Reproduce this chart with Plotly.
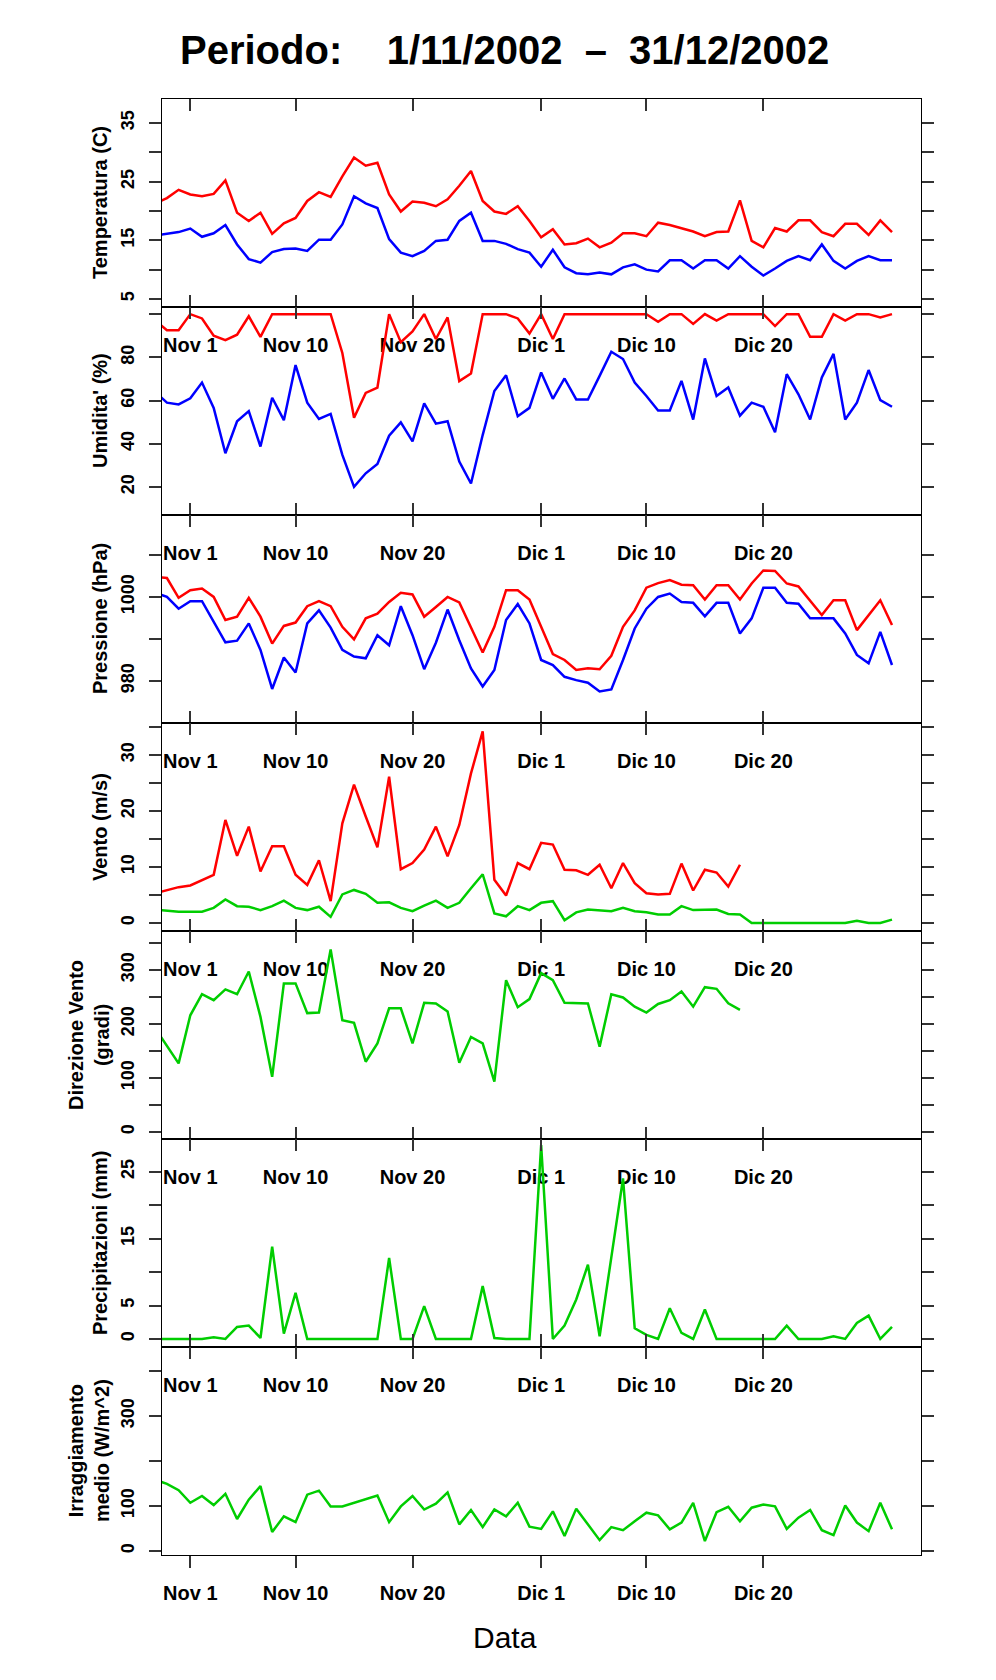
import pandas as pd
import plotly.graph_objects as go
from plotly.subplots import make_subplots

# daily values, 29 Oct 2002 .. 31 Dec 2002 (the first days fall just left of the visible range)
DATES = pd.date_range("2002-10-29", "2002-12-31", freq="D")
XRANGE = ["2002-10-29 13:55", "2003-01-02 11:31"]
XTICKS = ["2002-11-01", "2002-11-10", "2002-11-20", "2002-12-01", "2002-12-10", "2002-12-20"]
XLABELS = ["Nov 1", "Nov 10", "Nov 20", "Dic 1", "Dic 10", "Dic 20"]

TMAX = [21.3, 22.2, 23.6, 22.8, 22.5, 22.9, 25.2, 19.7, 18.3, 19.7,
        16.1, 17.9, 18.8, 21.7, 23.2, 22.4, 25.9, 29.1, 27.7, 28.2,
        22.8, 19.9, 21.6, 21.4, 20.8, 22.0, 24.3, 26.8, 21.7, 19.9,
        19.5, 20.8, 18.3, 15.5, 16.9, 14.3, 14.5, 15.3, 13.8, 14.6,
        16.2, 16.2, 15.7, 18.0, 17.6, 17.0, 16.5, 15.7, 16.4, 16.5,
        21.8, 14.9, 13.8, 17.1, 16.5, 18.4, 18.4, 16.4, 15.7, 17.8,
        17.8, 15.9, 18.4, 16.4]
TMIN = [15.8, 16.1, 16.4, 17.0, 15.6, 16.2, 17.6, 14.3, 11.8, 11.2,
        13.0, 13.5, 13.6, 13.2, 15.1, 15.1, 17.7, 22.5, 21.3, 20.5,
        15.2, 12.9, 12.3, 13.2, 14.9, 15.1, 18.3, 19.7, 14.9, 14.9,
        14.4, 13.5, 12.9, 10.5, 13.4, 10.4, 9.4, 9.2, 9.5, 9.2,
        10.4, 10.9, 10.0, 9.7, 11.6, 11.6, 10.2, 11.6, 11.6, 10.2,
        12.3, 10.5, 9.0, 10.2, 11.5, 12.3, 11.6, 14.3, 11.5, 10.2,
        11.5, 12.3, 11.6, 11.6]
HMAX = [97, 92.5, 92.5, 100, 98, 90, 88, 90.5, 99, 89.5,
        100, 100, 100, 100, 100, 100, 82, 52, 63.5, 66,
        100, 87, 92, 100, 88.5, 98.5, 69, 72.5, 100, 100,
        100, 98, 91, 100, 88.5, 100, 100, 100, 100, 100,
        100, 100, 100, 96.5, 100, 100, 95.5, 100, 97, 100,
        100, 100, 100, 94.5, 100, 100, 89.5, 89.5, 100, 97,
        100, 100, 98.5, 100]
HMIN = [64, 59, 58.2, 61, 68.3, 56.6, 35.6, 50.4, 55.1, 38.7,
        61.3, 50.9, 76.4, 59, 51.5, 53.8, 34.8, 20, 26.3, 30.6,
        43.7, 49.9, 41.1, 58.7, 49.3, 50.4, 31.7, 21.6, 44, 64.4,
        71.7, 52.7, 56.6, 73, 60.8, 70.2, 60.5, 60.5, 71.4, 82.6,
        79.2, 68.3, 62.1, 55.4, 55.4, 69.1, 51.2, 79.5, 62.1, 66,
        53, 59, 57.1, 45.3, 72.2, 62.9, 51.2, 70.7, 81.6, 51.2,
        59, 74.1, 60.2, 57.1]
PMAX = [1004.8, 1004.5, 999.8, 1001.6, 1002, 1000, 994.5, 995.3, 999.8, 995.3,
        988.9, 993.1, 993.9, 997.8, 999, 997.8, 992.9, 989.9, 994.9, 996,
        998.8, 1001, 1000.6, 995.3, 997.6, 1000, 998.7, 992.9, 986.8, 992.9,
        1001.6, 1001.6, 999.4, 992.9, 986.4, 985, 982.6, 983, 982.8, 986,
        992.9, 996.8, 1002.2, 1003.3, 1004, 1002.9, 1002.8, 999.4, 1002.8, 1002.8,
        999.4, 1003.2, 1006.3, 1006.2, 1003.2, 1002.5, 999.2, 995.7, 999.2, 999.2,
        992.1, 995.7, 999.2, 993.3]
PMIN = [1001, 1000, 997.2, 999, 999, 994.1, 989.2, 989.6, 993.7, 987.4,
        978.1, 985.6, 982, 993.7, 996.8, 992.7, 987.4, 985.8, 985.4, 990.9,
        988.5, 997.8, 990.9, 982.8, 989.1, 997, 989.7, 983, 978.7, 982.6,
        994.5, 998.3, 993.7, 985, 983.8, 981, 980.2, 979.6, 977.5, 978,
        985, 992.5, 997.2, 1000, 1000.8, 998.8, 998.6, 995.4, 998.6, 998.6,
        991.3, 994.9, 1002.2, 1002.2, 998.6, 998.4, 994.9, 994.9, 994.9, 991.3,
        986.2, 984.2, 991.7, 983.8]
WMAX = [5.3, 5.8, 6.4, 6.7, 7.7, 8.6, 18.4, 12, 17.2, 9.2,
        13.7, 13.7, 8.6, 6.8, 11.2, 3.9, 17.8, 24.7, 19, 13.5,
        26.1, 9.6, 10.7, 13.1, 17.2, 11.9, 17.5, 26.7, 34.2, 7.7,
        4.9, 10.7, 9.6, 14.3, 14, 9.5, 9.4, 8.6, 10.4, 6.2,
        10.7, 7.1, 5.3, 5.1, 5.2, 10.6, 5.8, 9.5, 9, 6.5,
        10.4] + [None] * 13
WMEAN = [2.4, 2.2, 2.0, 2.0, 2.0, 2.7, 4.2, 3.0, 2.9, 2.3,
         3.0, 4.0, 2.7, 2.3, 2.9, 1.1, 5.1, 5.9, 5.2, 3.6,
         3.7, 2.7, 2.1, 3.1, 4.0, 2.7, 3.6, 6.2, 8.7, 1.7,
         1.2, 3.0, 2.3, 3.6, 3.9, 0.5, 1.9, 2.4, 2.3, 2.1,
         2.7, 2.1, 1.9, 1.5, 1.5, 3.0, 2.3, 2.3, 2.4, 1.6,
         1.5, 0, 0, 0, 0, 0, 0, 0, 0, 0,
         0.4, 0, 0, 0.6]
WDIR = [192, 159, 127, 216, 255, 244, 264, 255, 297, 213,
        102, 275, 275, 220, 221, 338, 207, 202, 130, 164,
        229, 229, 164, 239, 238, 223, 128, 176, 164, 93,
        281, 231, 246, 294, 281, 239, 238, 238, 158, 255,
        249, 232, 221, 237, 244, 260, 232, 268, 265, 238,
        226] + [None] * 13
PRECIP = [0, 0, 0, 0, 0, 0.25, 0, 1.8, 2.0, 0.15,
          13.8, 0.8, 6.9, 0, 0, 0, 0, 0, 0, 0,
          12.1, 0, 0, 4.9, 0, 0, 0, 0, 7.9, 0.15,
          0, 0, 0, 29, 0, 2.0, 5.9, 11.1, 0.4, 12.2,
          24, 1.6, 0.6, 0, 4.6, 0.9, 0, 4.4, 0, 0,
          0, 0, 0, 0, 2.0, 0, 0, 0, 0.4, 0,
          2.4, 3.5, 0, 1.8]
IRR = [158, 149, 135, 107, 122, 102, 127, 71, 114, 144,
       42, 77, 64, 125, 134, 99, 99, 107, 115, 123,
       64, 99, 122, 92, 105, 130, 59, 91, 53, 92,
       77, 107, 54, 49, 88, 33, 94, 59, 24, 53,
       46, 66, 85, 79, 48, 63, 107, 22, 86, 98,
       66, 96, 103, 99, 49, 74, 91, 46, 35, 101,
       63, 44, 107, 48]

RED = "#ff0000"
BLUE = "#0000ff"
GREEN = "#00cd00"
FONT = "Liberation Sans, Arial, sans-serif"

# title, y range, tick values, tick labels, series
PANELS = [
    ("Temperatura (C)", [3.64, 39.07], [5, 10, 15, 20, 25, 30, 35],
     ["5", "", "15", "", "25", "", "35"], [(TMAX, RED), (TMIN, BLUE)]),
    ("Umidita' (%)", [7.0, 103.3], [20, 40, 60, 80, 100],
     ["20", "40", "60", "80", ""], [(HMAX, RED), (HMIN, BLUE)]),
    ("Pressione (hPa)", [970.0, 1019.5], [980, 990, 1000, 1010],
     ["980", "", "1000", ""], [(PMAX, RED), (PMIN, BLUE)]),
    ("Vento (m/s)", [-1.43, 35.7], [0, 5, 10, 15, 20, 25, 30, 35],
     ["0", "", "10", "", "20", "", "30", ""], [(WMAX, RED), (WMEAN, GREEN)]),
    ("Direzione Vento<br>(gradi)", [-13, 372], [0, 50, 100, 150, 200, 250, 300, 350],
     ["0", "", "100", "", "200", "", "300", ""], [(WDIR, GREEN)]),
    ("Precipitazioni (mm)", [-1.2, 29.9], [0, 5, 10, 15, 20, 25],
     ["0", "5", "", "15", "", "25"], [(PRECIP, GREEN)]),
    ("Irraggiamento<br>medio (W/m^2)", [-9, 453], [0, 100, 200, 300, 400],
     ["0", "100", "", "300", ""], [(IRR, GREEN)]),
]

# the page body adds an 8px margin, so the figure is shrunk to fit the window
OFF = 8
W, H = 996 - 2 * OFF, 1680 - 2 * OFF
ML, MR, MT, MB = 162 - OFF, 75 - OFF, 99 - OFF, 125 - OFF
PANEL_H = (H - MT - MB) / len(PANELS)


def px_x(x):
    # window pixel -> paper coordinate
    return (x - OFF - ML) / (W - ML - MR)


def px_y(y):
    return (H - MB - (y - OFF)) / (H - MT - MB)


def main():
    n = len(PANELS)
    fig = make_subplots(rows=n, cols=1, vertical_spacing=0)
    axis_style = dict(showline=True, linecolor="black", linewidth=1.2, mirror="ticks",
                      showgrid=False, zeroline=False, ticklen=12, tickwidth=1.5,
                      tickcolor="#333")
    tfont = dict(family=FONT, size=20, color="black", weight="bold")

    for i, (title, yr, yticks, ylabels, series) in enumerate(PANELS):
        row = i + 1
        for vals, col in series:
            fig.add_trace(go.Scatter(x=DATES, y=vals, mode="lines",
                                     line=dict(color=col, width=2.5),
                                     showlegend=False, hoverinfo="skip"),
                          row=row, col=1)
        fig.update_xaxes(axis_style, type="date", range=XRANGE, tickvals=XTICKS,
                         ticktext=XLABELS, tickfont=tfont,
                         ticks="outside" if row == n else "inside",
                         ticklabelstandoff=20 if row < n else 8,
                         row=row, col=1)
        fig.update_yaxes(axis_style, range=yr, tickvals=yticks, ticktext=ylabels,
                         ticks="outside", tickangle=-90, ticklabelstandoff=8,
                         tickfont=dict(family=FONT, size=18, color="black", weight="bold"),
                         row=row, col=1)
        xc = 89 if "<br>" in title else 100
        fig.add_annotation(text=title, textangle=-90, xref="paper", yref="paper",
                           x=px_x(xc), y=(n - i - 0.5) / n, showarrow=False,
                           xanchor="center", yanchor="middle",
                           font=dict(family=FONT, size=20, color="black", weight="bold"))

    # downward ticks on the top edge of the last panel
    fig.add_trace(go.Scatter(x=[DATES[0]], y=[None], mode="lines", showlegend=False,
                             hoverinfo="skip", xaxis="x8", yaxis="y7"))
    fig.update_layout(xaxis8=dict(overlaying="x7", anchor="y7", side="top", type="date",
                                  range=XRANGE, tickvals=XTICKS, showticklabels=False,
                                  ticks="inside", ticklen=12, tickwidth=1.5, tickcolor="#333",
                                  showgrid=False, zeroline=False, showline=False))

    sp = "\u00a0"
    fig.add_annotation(text="Periodo:" + sp * 4 + "1/11/2002" + sp * 2 + "\u2013" + sp * 2 + "31/12/2002",
                       xref="paper", yref="paper", x=px_x(504), y=px_y(50),
                       showarrow=False, xanchor="center", yanchor="middle",
                       font=dict(family=FONT, size=40, color="black", weight="bold"))
    fig.add_annotation(text="Data", xref="paper", yref="paper", x=px_x(505), y=px_y(1637),
                       showarrow=False, xanchor="center", yanchor="middle",
                       font=dict(family=FONT, size=30, color="black"))

    fig.update_layout(width=W, height=H, margin=dict(l=ML, r=MR, t=MT, b=MB),
                      plot_bgcolor="white", paper_bgcolor="white", showlegend=False)
    fig.write_html("out.html")


if __name__ == "__main__":
    main()
